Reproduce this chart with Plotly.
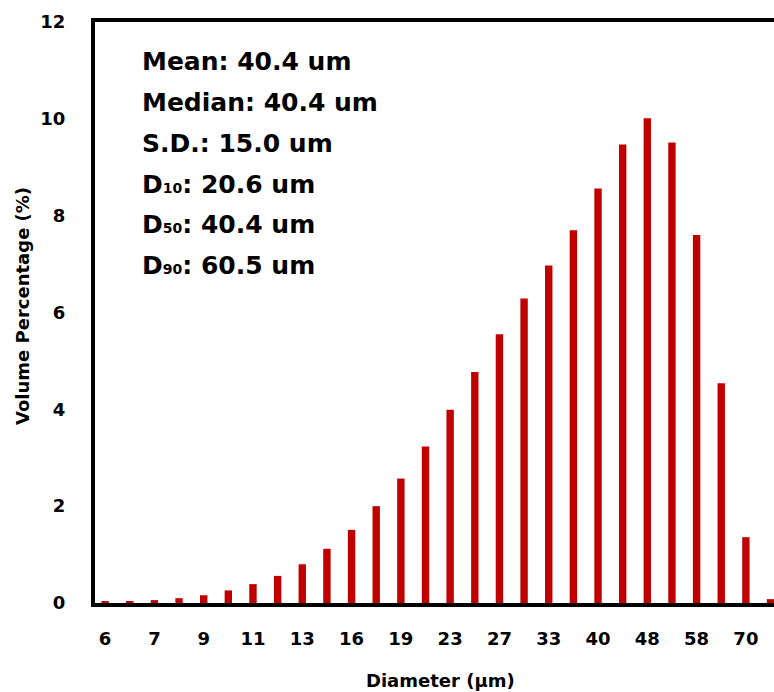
import plotly.graph_objects as go

diameters = ["6", "6.5", "7", "8", "9", "10", "11", "12", "13", "14", "16", "17",
             "19", "21", "23", "25", "27", "30", "33", "36", "40", "44", "48", "53",
             "58", "64", "70", "77"]
volume_pct = [0.03, 0.04, 0.06, 0.10, 0.16, 0.26, 0.39, 0.56, 0.80, 1.12, 1.51, 2.00,
              2.57, 3.23, 3.99, 4.77, 5.55, 6.29, 6.97, 7.70, 8.56, 9.47, 10.01, 9.51,
              7.60, 4.54, 1.36, 0.08]
shown_ticks = diameters[::2]
y_ticks = [0, 2, 4, 6, 8, 10, 12]
sub = '<span style="font-size:14px">{}</span>'
stats_lines = ["Mean: 40.4 um", "Median: 40.4 um", "S.D.: 15.0 um",
               "D" + sub.format("10") + ": 20.6 um",
               "D" + sub.format("50") + ": 40.4 um",
               "D" + sub.format("90") + ": 60.5 um"]

FONT = "DejaVu Sans"
W, H = 774, 692
L, R, T, B = 95, 0, 22, 89
pw, ph = W - L - R, H - T - B


def px(x):
    return (x - L) / pw


def py(y):
    return (H - B - y) / ph


fig = go.Figure(go.Bar(x=diameters, y=volume_pct, marker_color="#C00000",
                       marker_line_width=0))

fig.update_layout(
    width=W, height=H,
    margin=dict(l=L, r=R, t=T, b=B),
    plot_bgcolor="white", paper_bgcolor="white",
    bargap=0.7, showlegend=False,
    font=dict(family=FONT, color="black"),
)
fig.update_xaxes(
    type="category", range=[-0.41, 27.14], automargin=False,
    tickvals=shown_ticks, ticktext=shown_ticks,
    tickfont=dict(family=FONT, size=18, color="black", weight="bold"),
    ticklabelstandoff=16,
    showline=True, linecolor="black", linewidth=4, mirror=True,
    showgrid=False, ticks="",
)
fig.update_yaxes(
    range=[0, 12], tickvals=y_ticks, automargin=False,
    tickfont=dict(family=FONT, size=18, color="black", weight="bold"),
    ticklabelstandoff=22,
    showline=True, linecolor="black", linewidth=4, mirror=False,
    showgrid=False, zeroline=False, ticks="",
)

fig.add_annotation(x=px(440), y=py(680), xref="paper", yref="paper",
                   text="<b>Diameter (μm)</b>", showarrow=False,
                   xanchor="center", yanchor="middle",
                   font=dict(family=FONT, size=18, color="black"))
fig.add_annotation(x=px(22), y=py(306), xref="paper", yref="paper",
                   text="<b>Volume Percentage (%)</b>", showarrow=False, textangle=-90,
                   xanchor="center", yanchor="middle",
                   font=dict(family=FONT, size=18, color="black"))

line_y = [62, 102, 143, 184, 224, 265]
for t, yy in zip(stats_lines, line_y):
    fig.add_annotation(x=px(140), y=py(yy), xref="paper", yref="paper",
                       text="<b>" + t + "</b>",
                       showarrow=False, xanchor="left", yanchor="middle",
                       font=dict(family=FONT, size=25, color="black"))

fig.write_html("out.html", config={"displayModeBar": False},
               post_script="document.body.style.margin='0px';")
